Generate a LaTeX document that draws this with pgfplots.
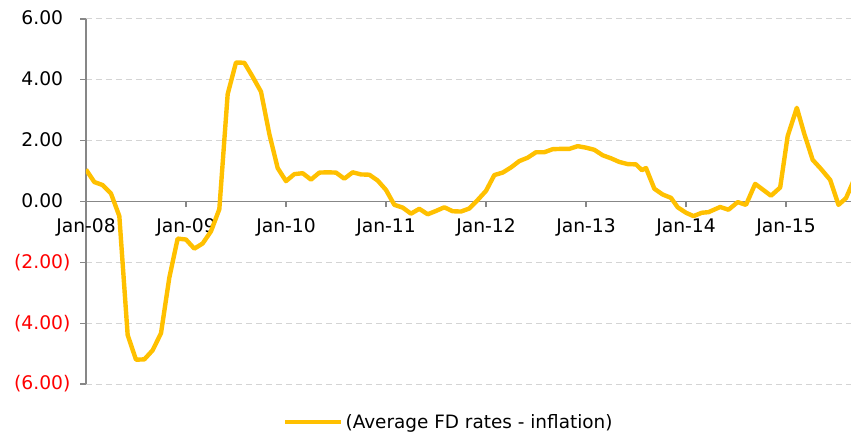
\documentclass[border=0pt]{standalone}
\usepackage{pgfplots}
\pgfplotsset{compat=1.18}
\usepackage{fontspec}
\setmainfont{DejaVu Sans}
\definecolor{gold}{HTML}{FFC000}
\definecolor{axgray}{HTML}{878787}
\definecolor{gridgray}{HTML}{D4D4D4}
\definecolor{negred}{HTML}{FF0000}
\begin{document}
\begin{tikzpicture}
\begin{axis}[
 scale only axis, width=765bp, height=365bp,
 xmin=0, xmax=91.8, ymin=-6, ymax=6,
 axis x line=middle, axis y line=left,
 axis line style={-, draw=axgray, line width=1.2bp},
 hide obscured x ticks=false,
 tick align=outside,
 major tick length=5.5bp,
 tick style={draw=axgray, line width=1.2bp},
 xtick={0,12,24,36,48,60,72,84},
 xticklabels={Jan-08,Jan-09,Jan-10,Jan-11,Jan-12,Jan-13,Jan-14,Jan-15},
 ytick={-6,-4,-2,0,2,4,6},
 yticklabels={\textcolor{negred}{(6.00)},\textcolor{negred}{(4.00)},\textcolor{negred}{(2.00)},0.00\phantom{)},2.00\phantom{)},4.00\phantom{)},6.00\phantom{)}},
 ticklabel style={font=\fontsize{18.8}{22}\selectfont},
 xticklabel style={yshift=-8bp},
 yticklabel style={xshift=-6.5bp},
 ymajorgrids, grid style={gridgray, dash pattern=on 6bp off 4bp, line width=1bp},
 legend style={draw=none, fill=none, at={(0.2575,-0.104)}, anchor=west, inner sep=0pt, font=\fontsize{18.5}{22}\selectfont},
 legend cell align=left,
 legend image code/.code={\draw[#1] (0bp,0bp) -- (56bp,0bp);},
]
\addplot[gold, line width=4.4bp, line join=round] coordinates {
(0,1.05) (1,0.64) (2,0.54) (3,0.26) (4,-0.48) (5,-4.39) (6,-5.2) (7,-5.19)
(8,-4.89) (9,-4.33) (10,-2.5) (11,-1.22) (12,-1.25) (13,-1.55) (14,-1.38) (15,-0.98)
(16,-0.25) (17,3.53) (18,4.57) (19,4.56) (20,4.1) (21,3.61) (22,2.22) (23,1.1)
(24,0.67) (25,0.9) (26,0.93) (27,0.72) (28,0.95) (29,0.96) (30,0.95) (31,0.75)
(32,0.96) (33,0.89) (34,0.88) (35,0.69) (36,0.38) (37,-0.11) (38,-0.2) (39,-0.4)
(40,-0.24) (41,-0.42) (42,-0.31) (43,-0.19) (44,-0.32) (45,-0.33) (46,-0.23) (47,0.05)
(48,0.35) (49,0.87) (50,0.95) (51,1.12) (52,1.33) (53,1.44) (54,1.62) (55,1.62)
(56,1.72) (57,1.73) (58,1.73) (59,1.82) (60,1.77) (61,1.7) (62,1.52) (63,1.42)
(64,1.3) (65,1.23) (66,1.22) (66.7,1.03) (67.2,1.10) (68.2,0.42) (69.2,0.23) (70.2,0.12)
(71.0,-0.19) (72.0,-0.37) (72.9,-0.48) (73.9,-0.37) (74.7,-0.35) (76.1,-0.18) (77.1,-0.27) (78.2,-0.02)
(79.2,-0.11) (80.3,0.58) (82.2,0.19) (83.3,0.46) (84.2,2.15) (85.3,3.08) (86.2,2.22) (87.2,1.37)
(88.2,1.07) (89.3,0.71) (90.3,-0.11) (91.2,0.11) (92.2,0.74)
};
\legend{(Average FD rates - inflation)}
\end{axis}
\pgfresetboundingbox
\path[use as bounding box] ([xshift=-86bp,yshift=-52bp]current axis.south west) rectangle ([yshift=19bp]current axis.north east);
\end{tikzpicture}
\end{document}
